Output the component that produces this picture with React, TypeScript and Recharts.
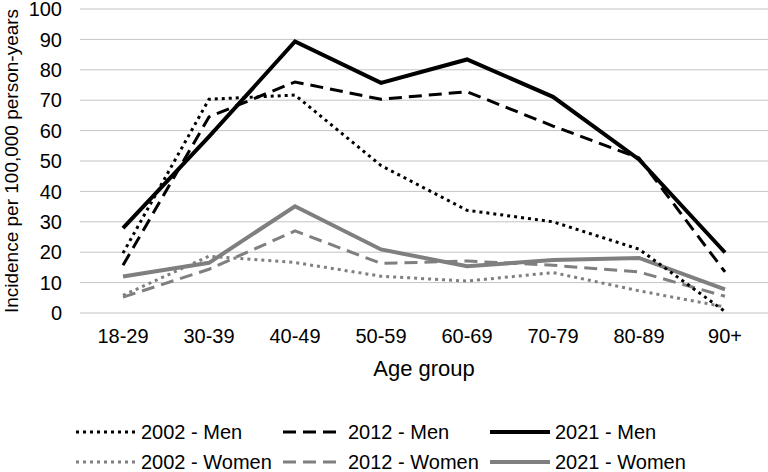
import React from 'react';
import { LineChart, Line, XAxis, YAxis, CartesianGrid, Legend } from 'recharts';

const ageGroups = ['18-29', '30-39', '40-49', '50-59', '60-69', '70-79', '80-89', '90+'];

const men2002 = [19.7, 70.3, 71.7, 48.5, 33.8, 30.0, 21.0, 0.5];
const men2012 = [15.7, 64.5, 76.0, 70.3, 72.8, 61.5, 51.0, 13.5];
const men2021 = [27.9, 58.0, 89.3, 75.7, 83.4, 71.1, 50.5, 19.9];
const women2002 = [5.8, 18.7, 16.6, 12.1, 10.5, 13.3, 7.3, 2.0];
const women2012 = [5.2, 14.4, 27.0, 16.3, 17.1, 15.7, 13.5, 5.5];
const women2021 = [12.0, 16.5, 35.1, 20.9, 15.4, 17.4, 18.1, 7.8];

const yTicks = [0, 10, 20, 30, 40, 50, 60, 70, 80, 90, 100];

const BLACK = '#000000';
const GREY = '#7f7f7f';
const FONT = '"Liberation Sans", Arial, sans-serif';

// legend order: men row first, then women
const SERIES = [
  { key: 'men2002', name: '2002 - Men', values: men2002, color: BLACK, width: 3, dash: '3 4' },
  { key: 'men2012', name: '2012 - Men', values: men2012, color: BLACK, width: 3, dash: '13 7' },
  { key: 'men2021', name: '2021 - Men', values: men2021, color: BLACK, width: 4, dash: undefined },
  { key: 'women2002', name: '2002 - Women', values: women2002, color: GREY, width: 3, dash: '3 4' },
  { key: 'women2012', name: '2012 - Women', values: women2012, color: GREY, width: 3, dash: '13 7' },
  { key: 'women2021', name: '2021 - Women', values: women2021, color: GREY, width: 4, dash: undefined },
];

const data = ageGroups.map((age, i) => {
  const row: any = { age };
  SERIES.forEach((s) => {
    row[s.key] = s.values[i];
  });
  return row;
});

const ChartLegend = () => (
  <div style={{ position: 'relative', width: 768, height: 69, fontFamily: FONT }}>
    {SERIES.map((s, i) => {
      const col = i % 3;
      const row = Math.floor(i / 3);
      return (
        <div
          key={s.key}
          style={{
            position: 'absolute',
            left: 76 + col * 207,
            top: 14 + row * 30,
            height: 30,
            display: 'flex',
            alignItems: 'center',
            whiteSpace: 'nowrap',
          }}
        >
          <svg width={60} height={10}>
            <line x1={0} y1={5} x2={60} y2={5} stroke={s.color} strokeWidth={s.width} strokeDasharray={s.dash} />
          </svg>
          <span style={{ marginLeft: 5, fontSize: 20, lineHeight: '30px', color: '#000' }}>{s.name}</span>
        </div>
      );
    })}
  </div>
);

const YTitle = (props: any) => {
  const vb = props.viewBox || { x: 0, y: 9, height: 304 };
  const cx = vb.x + 11;
  const cy = vb.y + vb.height / 2;
  return (
    <text
      x={cx}
      y={cy}
      transform={`rotate(-90 ${cx} ${cy})`}
      textAnchor="middle"
      dy="0.35em"
      fontSize={19}
      fontFamily={FONT}
      fill="#000"
    >
      Incidence per 100,000 person-years
    </text>
  );
};

export default function App() {
  return (
    <div style={{ width: 768, height: 472, fontFamily: FONT, background: '#fff' }}>
      <style>{'body{margin:0}'}</style>
      <LineChart width={768} height={472} data={data} margin={{ top: 9, right: 0, left: 0, bottom: 0 }}>
        <CartesianGrid vertical={false} stroke="#c4c4c4" />
        <XAxis
          dataKey="age"
          interval={0}
          padding={{ left: 43, right: 43 }}
          axisLine={false}
          tickLine={false}
          tickMargin={10}
          height={90}
          tick={{ fontSize: 20, fill: '#000', fontFamily: FONT }}
          label={{ value: 'Age group', position: 'insideBottom', offset: 27, fontSize: 22, fill: '#000', fontFamily: FONT }}
        />
        <YAxis
          domain={[0, 100]}
          ticks={yTicks}
          interval={0}
          axisLine={false}
          tickLine={false}
          tickMargin={12}
          width={80}
          tick={{ fontSize: 20, fill: '#000', fontFamily: FONT }}
          label={{ content: YTitle }}
        />
        {[...SERIES].reverse().map((s) => (
          <Line
            key={s.key}
            type="linear"
            dataKey={s.key}
            name={s.name}
            stroke={s.color}
            strokeWidth={s.width}
            strokeDasharray={s.dash}
            dot={false}
            activeDot={false}
            isAnimationActive={false}
          />
        ))}
        <Legend
          verticalAlign="bottom"
          content={() => <ChartLegend />}
          wrapperStyle={{ left: 0, bottom: 0, width: 768, height: 69 }}
        />
      </LineChart>
    </div>
  );
}
